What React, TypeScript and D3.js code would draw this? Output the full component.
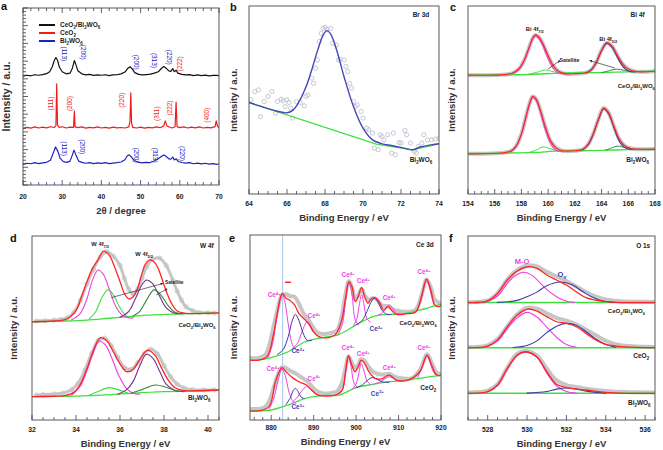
import React from 'react';
import * as d3 from 'd3';

type Pt = [number, number];

const FONT = '"Liberation Sans", Arial, Helvetica, sans-serif';

// ---------- (a) XRD, 2theta vs intensity (a.u., 0-100 = frame height)
const xrdComposite: Pt[] = [
  [20, 61.5], [21, 62.0], [22, 61.7], [23, 62.3], [24, 62.0], [25, 62.4], [26, 62.9], [26.8, 64], [27.5, 67],
  [28, 70.5], [28.4, 72], [28.8, 70.5], [29.3, 66.5], [30, 64], [31, 62.8], [32, 63.2], [32.6, 66], [33.1, 70.3],
  [33.5, 68], [34, 64.5], [35, 62.8], [36, 62.2], [37, 62.5], [38, 61.9], [39, 62.2], [40, 62], [41, 62.3],
  [42, 61.8], [43, 62.2], [44, 62.3], [45, 62.8], [46, 63.8], [46.7, 65.8], [47.3, 66.8], [47.9, 65.5],
  [48.5, 63.5], [49.5, 62.5], [50.5, 62.2], [51.5, 62.4], [52.5, 62.6], [53.5, 63.2], [54.5, 64], [55.3, 65.8],
  [55.9, 67], [56.5, 66], [57.2, 64.5], [57.7, 64.2], [58.2, 65.8], [58.6, 64], [59.1, 64.8], [59.5, 63.2],
  [60.5, 62.5], [61.5, 62.2], [62.5, 62.4], [63.5, 61.8], [64.5, 62.2], [65.5, 61.8], [66.5, 62.1], [67.5, 61.7],
  [68.5, 61.9], [69.5, 62], [70, 61.6],
];
const xrdCeO2: Pt[] = [
  [20, 32.0], [21, 32.6], [22, 32.1], [23, 32.8], [24, 32.2], [25, 32.7], [26, 32.3], [27, 32.9], [28, 32.5],
  [28.4, 33.5], [28.6, 57.2], [28.8, 34], [29.2, 32.6], [30, 32.9], [31, 32.2], [32, 32.7], [32.9, 32.6],
  [33.1, 41.7], [33.3, 32.8], [34, 32.4], [35, 32.8], [36, 32.1], [37, 32.6], [38, 32.3], [39, 32.8], [40, 32.2],
  [41, 32.6], [42, 32.1], [43, 32.7], [44, 32.3], [45, 32.5], [46, 32.2], [47, 32.8], [47.3, 36], [47.5, 52],
  [47.7, 35], [48, 32.6], [49, 32.2], [50, 32.7], [51, 32.1], [52, 32.6], [53, 32.3], [54, 32.8], [55, 32.4],
  [55.9, 33.5], [56.3, 36.2], [56.7, 33.4], [57.5, 32.6], [58, 32.2], [58.8, 32.9], [59.05, 46.9], [59.3, 33],
  [60, 32.4], [61, 32.8], [62, 32.2], [63, 32.7], [64, 32.3], [65, 32.8], [66, 32.2], [67, 32.6], [68, 32.3],
  [69, 33], [69.3, 36.2], [69.6, 33.2], [70, 32.4],
];
const xrdBWO: Pt[] = [
  [20, 11.6], [21, 12.3], [22, 12.0], [23, 12.6], [24, 12.1], [25, 12.5], [26, 12.8], [27, 14], [27.7, 18],
  [28.3, 21.5], [28.9, 19], [29.5, 15], [30.3, 13.2], [31.2, 12.8], [32, 13.5], [32.6, 17], [33, 19.7],
  [33.5, 17], [34.2, 13.5], [35, 12.8], [36, 12.3], [37, 12.6], [38, 12.1], [39, 12.5], [40, 12.2], [41, 12.6],
  [42, 12.1], [43, 12.4], [44, 12.6], [45, 13], [46, 14.3], [46.6, 16.5], [47.1, 17], [47.6, 16], [48.3, 14],
  [49.3, 12.9], [50.3, 12.5], [51.3, 12.8], [52.3, 12.6], [53.3, 13.4], [54.3, 14.5], [55.2, 16], [55.9, 17],
  [56.5, 16.2], [57.2, 14.8], [57.7, 14.6], [58.2, 15.8], [58.6, 14.2], [59.1, 14.8], [59.6, 13.3], [60.5, 12.7],
  [61.5, 12.4], [62.5, 12.6], [63.5, 12.0], [64.5, 12.4], [65.5, 11.9], [66.5, 12.3], [67.5, 11.8], [68.5, 12.1],
  [69.5, 11.7], [70, 12.0],
];
const xrdNames = ['CeO_2/Bi_2WO_6', 'CeO_2', 'Bi_2WO_6'];
const xrdColors = ['#111111', '#ee1c1c', '#2020c0'];
// plane label, 2theta, height, colour index
const xrdPlanes: [string, number, number, number][] = [
  ['(113)', 30.4, 74.1, 2], ['(200)', 35.3, 75, 2], ['(200)', 48.9, 69.4, 2], ['(313)', 53.5, 70.4, 2],
  ['(220)', 57.3, 72.2, 2], ['(222)', 60, 68.5, 1],
  ['(111)', 27.1, 46, 1], ['(200)', 31.8, 46, 1], ['(220)', 45.2, 47.8, 1], ['(311)', 54.1, 40.3, 1],
  ['(222)', 57.5, 43.5, 1], ['(400)', 67, 39.4, 1],
  ['(113)', 30.4, 20.6, 2], ['(200)', 35, 21.6, 2], ['(200)', 48.9, 16.9, 2], ['(313)', 53.7, 16.9, 2],
  ['(220)', 60.5, 17.8, 2],
];

// ---------- (b) Br 3d
const brRaw: Pt[] = [
  [64.1, 50.1], [64.3, 54.5], [64.5, 55.4], [64.6, 41.2], [64.8, 49.2], [65, 51.9], [65.2, 54.5], [65.4, 43],
  [65.5, 49.2], [65.7, 50.4], [65.8, 49.6], [66, 50.1], [66.1, 48.7], [66.2, 45.7], [65.9, 46.5], [66.3, 40.4],
  [66.5, 49.2], [66.7, 48.7], [66.9, 46.9], [67, 51.9], [67.1, 52.7], [67.3, 61.6], [67.4, 58.9], [67.5, 66.9],
  [67.6, 71.3], [67.7, 81.1], [67.8, 85.5], [67.9, 88.1], [68, 88.7], [68.1, 87.6], [68.3, 88.1], [68.4, 80.2],
  [68.6, 79.3], [68.7, 71.3], [68.8, 71.7], [69, 71.3], [69.1, 67.8], [69.2, 65.1], [69.3, 58.9], [69.4, 56.3],
  [69.5, 49.2], [69.6, 46.5], [69.7, 47.4], [69.9, 43.9], [70, 40.4], [70.2, 35], [70.3, 34.2], [70.5, 32.4],
  [70.6, 24.4], [70.8, 23.5], [70.9, 31.5], [71, 30.6], [71.1, 28.8], [71.3, 31.5], [71.5, 21.8], [71.6, 32.4],
  [71.7, 20.9], [71.9, 27.4], [72, 27.1], [72.2, 33.8], [72.3, 31.5], [72.5, 27.1], [72.7, 22.7], [72.8, 21.8],
  [72.9, 25.3], [73.1, 27.1], [73.2, 31.5], [73.4, 28.8], [73.6, 28.8], [73.8, 29.2], [74, 29.7],
];
const brFit: Pt[] = [
  [64, 48.7], [64.5, 47.0], [65, 45.4], [65.5, 44.0], [66, 43.2], [66.3, 44.5], [66.6, 48.5], [67, 57],
  [67.3, 66], [67.6, 76], [67.9, 84.5], [68.1, 86.9], [68.3, 85], [68.6, 77], [69, 62.5], [69.5, 46.5],
  [70, 35], [70.5, 28.8], [71, 26.7], [71.5, 25.8], [72, 24.8], [72.6, 23.5], [73, 25], [73.5, 26], [74, 26.7],
];
const brBase: Pt[] = [[64, 48.7], [70.7, 26.5], [72.6, 23.5], [74, 26.7]];

// ---------- (c) Bi 4f
const biTopBase: Pt[] = [[154, 63.2], [157, 63.4], [159, 63.7], [160.5, 64.2], [162, 64.4], [164, 64.6], [166, 65], [168, 65.3]];
const biTopFit: Pt[] = [
  [154, 63.2], [156.5, 63.4], [157.3, 64.2], [157.8, 66.5], [158.2, 71], [158.6, 78.5], [158.85, 83], [159.05, 84.6],
  [159.3, 83.5], [159.6, 80], [160, 73.5], [160.4, 68], [160.8, 65.2], [161.3, 64], [162, 64], [162.8, 64.5],
  [163.2, 66], [163.6, 70], [164, 76.5], [164.4, 80.5], [164.8, 78.5], [165.2, 73.5], [165.6, 69], [166, 66.5],
  [166.5, 65.2], [167, 65], [168, 65.3],
];
const biTop72: Pt[] = [
  [157.3, 64], [157.8, 66.2], [158.2, 70.8], [158.6, 78.2], [158.85, 82.6], [159.05, 84], [159.3, 82.7],
  [159.6, 79], [160, 72], [160.4, 66.5], [160.8, 64.3], [161.3, 63.8],
];
const biTop52: Pt[] = [
  [162.8, 64.4], [163.2, 65.8], [163.6, 69.8], [164, 76.2], [164.4, 80.1], [164.8, 77.8], [165.2, 72.5],
  [165.6, 67.8], [166, 65.4], [166.5, 64.9],
];
const biTopSat1: Pt[] = [[158.5, 63.7], [159.2, 64.8], [159.8, 66], [160.4, 65], [161, 64.2]];
const biTopSat2: Pt[] = [[164, 64.6], [164.6, 65.6], [165.1, 66.4], [165.7, 65.8], [166.3, 65]];
const biBotBase: Pt[] = [[154, 21.4], [157, 21.8], [159, 22.1], [160.5, 22.8], [162, 23], [164, 23.2], [166, 23.6], [168, 23.9]];
const biBotFit: Pt[] = [
  [154, 21.4], [156.5, 21.8], [157.2, 22.8], [157.6, 25.5], [158, 32], [158.3, 40], [158.6, 48], [158.85, 51.9],
  [159.1, 50.5], [159.4, 45], [159.8, 35.5], [160.2, 28], [160.6, 24.5], [161.1, 23], [162, 23], [162.6, 23.8],
  [163, 26.5], [163.4, 32.5], [163.8, 40.5], [164.15, 45.7], [164.5, 43.5], [164.9, 36.5], [165.3, 29.5],
  [165.7, 25.8], [166.2, 24.2], [167, 23.8], [168, 23.9],
];
const biBot72: Pt[] = [
  [157.2, 22.6], [157.6, 25.2], [158, 31.7], [158.3, 39.6], [158.6, 47.5], [158.85, 51.3], [159.1, 49.8],
  [159.4, 44], [159.8, 34], [160.2, 26.5], [160.6, 23.2], [161.1, 22.5],
];
const biBot52: Pt[] = [
  [162.6, 23.5], [163, 26.2], [163.4, 32.2], [163.8, 40.2], [164.15, 45.2], [164.5, 43], [164.9, 35.8],
  [165.3, 28.5], [165.7, 24.8], [166.2, 23.7],
];
const biBotSat1: Pt[] = [[158.6, 22.2], [159.1, 23.3], [159.6, 25], [160.2, 24], [160.8, 22.8]];
const biBotSat2: Pt[] = [[164.3, 23.3], [164.8, 24.6], [165.2, 25.5], [165.8, 24.6], [166.5, 23.7]];

// ---------- (d) W 4f
const wTopBase: Pt[] = [[32, 53.4], [33.5, 53.8], [34.5, 54.3], [35.5, 55.3], [36.5, 56.3], [37.5, 57.1], [38.5, 57.6], [39.5, 58], [40.5, 58.2]];
const wTopRaw: Pt[] = [
  [32.2, 53.8], [32.6, 54], [33.0, 54.2], [33.3, 54.6], [33.6, 55.5], [33.9, 58.5], [34.2, 65], [34.5, 74],
  [34.8, 82], [35.1, 88.5], [35.4, 91.5], [35.7, 89], [36.0, 84], [36.2, 77], [36.4, 71], [36.6, 68.5],
  [36.8, 71], [37.0, 77], [37.2, 83], [37.5, 87.5], [37.8, 88], [38.1, 84], [38.4, 76], [38.6, 70], [38.8, 65],
  [39.0, 61.5], [39.3, 59.5], [39.6, 58.5], [40.0, 58.2], [40.3, 58.2],
];
const wTopFit: Pt[] = [
  [32, 53.4], [33, 53.8], [33.5, 54.5], [34, 59.5], [34.25, 67], [34.5, 75.2], [34.75, 82.4], [35, 87],
  [35.25, 91.8], [35.5, 89.7], [35.75, 83.3], [36, 75.2], [36.2, 68.8], [36.4, 65.8], [36.6, 67], [36.8, 71.6],
  [37, 79.7], [37.15, 84.6], [37.35, 87], [37.5, 86.4], [37.7, 83.3], [37.85, 78.8], [38, 73.4], [38.15, 68.5],
  [38.3, 64.3], [38.6, 59.2], [39, 58], [40.5, 58.2],
];
const wTop72: Pt[] = [[33.8, 54.5], [34.2, 58], [34.5, 66], [34.75, 76], [35.0, 81.5], [35.25, 79], [35.5, 71.5], [35.8, 62], [36.1, 57], [36.4, 55.5], [36.6, 55.5]];
const wTopSat1: Pt[] = [[34.6, 54.8], [34.9, 59], [35.2, 67], [35.45, 70.7], [35.7, 68], [36.0, 61], [36.3, 56.5], [36.6, 56]];
const wTop52: Pt[] = [[36.0, 55.8], [36.4, 59], [36.7, 66], [37.0, 73.5], [37.2, 76.1], [37.45, 74.5], [37.75, 68.5], [38.1, 61], [38.5, 58], [38.8, 57.8]];
const wTopSat2: Pt[] = [[36.6, 56.5], [36.9, 59], [37.2, 65], [37.55, 70.7], [37.85, 68], [38.2, 62], [38.5, 58.5], [38.9, 57.8]];
const wBotBase: Pt[] = [[32, 12.7], [33.5, 12.9], [35, 13.4], [36.5, 14.5], [38, 15.4], [39.5, 15.9], [40.5, 16.3]];
const wBotRaw: Pt[] = [
  [32.2, 13.6], [32.5, 13.8], [33.0, 14.2], [33.4, 14.6], [33.8, 16.5], [34.1, 20], [34.4, 27], [34.7, 36],
  [35.0, 43], [35.3, 44.5], [35.6, 40.5], [35.9, 34], [36.2, 28.5], [36.5, 27.5], [36.8, 31], [37.1, 36],
  [37.4, 38.5], [37.7, 36], [38.0, 29.5], [38.3, 23.5], [38.6, 19.5], [38.9, 17.5], [39.3, 16.5], [39.8, 16.3],
  [40.3, 16.4],
];
const wBotFit: Pt[] = [
  [32, 12.7], [33, 12.9], [33.5, 13.3], [33.9, 15], [34.2, 19.5], [34.5, 28], [34.8, 38], [35.1, 44.7],
  [35.4, 43], [35.7, 37], [36.0, 30.5], [36.3, 26.3], [36.6, 27.5], [36.9, 33], [37.25, 38], [37.6, 35],
  [37.9, 28], [38.2, 21.5], [38.5, 17.5], [38.9, 16], [39.5, 15.9], [40.5, 16.3],
];
const wBot72: Pt[] = [[33.8, 13.5], [34.2, 18.5], [34.5, 27], [34.8, 37], [35.05, 42.9], [35.35, 40.5], [35.65, 33], [35.95, 24], [36.3, 17], [36.6, 14.5], [36.9, 14]];
const wBot52: Pt[] = [[35.9, 14], [36.3, 16.5], [36.6, 21], [36.9, 29.5], [37.2, 35.7], [37.5, 33.5], [37.8, 26.5], [38.1, 19.5], [38.5, 16], [38.9, 15.4]];
const wBotSat1: Pt[] = [[34.6, 13.5], [35.0, 15.5], [35.5, 17.6], [35.9, 16.5], [36.4, 14.5]];
const wBotSat2: Pt[] = [[36.5, 14.5], [37.0, 16.5], [37.6, 19], [38.1, 17.8], [38.6, 15.8], [39, 15.8]];

// ---------- (e) Ce 3d
const ceTopBase: Pt[] = [[875, 32.4], [877, 32.4], [880, 33.7], [884, 36.9], [888, 42.3], [892, 44.5], [896, 46.3], [900, 51.4], [904, 55.9], [908, 57.1], [912, 57.7], [916, 60], [920, 62.6]];
const ceTopRaw: Pt[] = [
  [875, 33.5], [877, 33.5], [878.5, 35], [879.5, 40], [880.5, 50], [881.5, 60], [882.5, 67.5], [883.5, 68],
  [884.5, 67], [885.5, 66.5], [886.5, 63], [887.5, 58], [888.5, 55], [889.5, 51.5], [890.5, 48], [892, 46.5],
  [894, 47], [895.5, 48.5], [896.5, 55], [897.5, 68], [898.3, 75], [899, 72], [899.8, 65], [900.5, 67.5],
  [901.3, 71], [902, 67.5], [903, 65], [904, 66], [905, 65], [906, 62], [907.5, 61.5], [908.5, 60], [910, 59],
  [912, 58.5], [914, 59.5], [915.5, 68], [916.6, 76], [917.7, 71], [918.5, 65], [919.5, 63.5], [920, 63],
];
const ceTopFit: Pt[] = [
  [875, 32.4], [877, 32.4], [879, 34.2], [880.5, 45.9], [881.5, 58.6], [882.6, 68.5], [883.5, 65.8], [884.3, 64.9],
  [885.5, 62.2], [886.5, 57.7], [888, 54.1], [889, 51.4], [890, 47.5], [892, 44.5], [895, 45.9], [896.5, 53.2],
  [897.5, 65.8], [898.3, 74.8], [899, 72.1], [899.8, 64], [900.5, 66.7], [901.3, 71.5], [902, 66.7], [902.8, 63.1],
  [903.5, 65.4], [904.5, 66.1], [905.5, 63.6], [906.5, 59.5], [907.6, 61.3], [908.5, 58.9], [909.5, 57.1],
  [912, 57.5], [914, 58.2], [915.5, 67.6], [916.6, 76.2], [917.7, 69.4], [918.5, 62.2], [919.5, 61.3], [920, 62],
];
const ceTop4a: Pt[] = [[879.3, 34], [880.3, 41], [881.3, 55], [882, 64], [882.6, 67.9], [883.2, 64], [884, 52], [884.8, 42], [885.6, 38.5], [886.4, 38]];
const ceTop3a: Pt[] = [[881.5, 35.5], [882.8, 38], [884, 45], [885, 54], [885.7, 57.1], [886.5, 54], [887.5, 47], [888.5, 43], [889.5, 43]];
const ceTop4b: Pt[] = [[885, 38.5], [886.3, 42], [887.3, 48], [888.5, 53.2], [889.5, 50], [890.5, 46], [891.5, 44.5]];
const ceTop4c: Pt[] = [[895.8, 46.5], [896.8, 52], [897.5, 64], [898.3, 74.4], [899, 68], [899.8, 54], [900.5, 51.5]];
const ceTop4d: Pt[] = [[899.4, 51], [900.2, 55], [900.8, 63], [901.3, 67.6], [901.8, 63], [902.5, 55], [903.3, 53]];
const ceTop3b: Pt[] = [[900, 51.5], [901.5, 54], [902.5, 58.5], [903.5, 63.5], [904.3, 65.8], [905.2, 63.5], [906.2, 59], [907.2, 57.2], [908.2, 57]];
const ceTop4e: Pt[] = [[905.3, 56.8], [906.3, 58], [907, 60.5], [907.8, 62.2], [908.6, 60.5], [909.4, 58], [910.3, 57.5]];
const ceTop4f: Pt[] = [[914.3, 59], [915.2, 64], [916, 72.5], [916.6, 75.7], [917.2, 72.5], [918, 65], [918.8, 61.5]];
const ceBotBase: Pt[] = [[875, 4.9], [877, 4.9], [880, 5.4], [884, 8.1], [888, 11.7], [892, 13.2], [896, 13.5], [900, 17.5], [904, 19.3], [908, 20.7], [912, 21.6], [916, 22.9], [920, 24.1]];
const ceBotRaw: Pt[] = [
  [875, 6], [877, 6], [878.5, 7], [879.5, 10], [880.5, 17], [881.5, 24], [882.5, 28.5], [883.5, 28], [884.5, 26.5],
  [885.5, 25.5], [886.5, 24], [887.5, 22.5], [888.5, 21], [889.5, 18.5], [890.5, 16], [892, 14.5], [894, 14.5],
  [895.5, 15.5], [896.5, 19], [897.5, 28], [898.2, 34.5], [899, 31], [899.7, 28], [900.5, 30], [901.2, 33],
  [902, 32], [903, 28.5], [904, 26], [905, 25], [906.5, 24.5], [907.8, 25], [909, 23.5], [911, 22.5], [913, 22.5],
  [915, 27], [916.7, 35.5], [917.8, 31], [918.8, 26], [919.5, 25], [920, 25],
];
const ceBotFit: Pt[] = [
  [875, 4.9], [877, 4.9], [879.5, 7.2], [881, 20.7], [882.5, 28.3], [883.5, 26.1], [885, 22.9], [886.5, 20.7],
  [888.3, 18.9], [889.5, 16.2], [891, 13.5], [895, 13.5], [896.7, 16.2], [897.5, 26.1], [898.2, 34.8], [899, 29.7],
  [899.7, 26.1], [900.5, 28.8], [901.2, 32.4], [902, 30.6], [903, 26.1], [904.5, 22.5], [906, 22.2], [907.8, 24.3],
  [909.5, 21.6], [912, 21.4], [915, 26.1], [916.7, 35.1], [917.8, 29.7], [918.8, 24.7], [919.5, 24], [920, 24],
];
const ceBot4a: Pt[] = [[879.5, 6], [880.5, 11], [881.5, 20], [882.5, 27.6], [883.3, 24], [884.2, 15], [885, 10.5], [885.8, 9]];
const ceBot3a: Pt[] = [[883.5, 8.5], [884.5, 12], [885.2, 16], [885.7, 17.1], [886.3, 15.5], [887, 12.5], [887.8, 11.5]];
const ceBot4b: Pt[] = [[885, 9.5], [886.2, 12.5], [887.3, 16], [888.3, 18], [889.3, 16.5], [890.3, 14.5], [891.5, 13.3]];
const ceBot4c: Pt[] = [[896, 14], [896.9, 17], [897.5, 25], [898.2, 34.2], [898.8, 29], [899.5, 20], [900.3, 17.5]];
const ceBot4d: Pt[] = [[899, 16.5], [900, 19.5], [900.7, 26], [901.2, 30.6], [901.8, 27], [902.6, 21], [903.5, 19]];
const ceBot3b: Pt[] = [[900, 17.5], [901.5, 19], [902.7, 21.5], [903.8, 22.9], [905, 22], [906.3, 20.5], [907.8, 20.5]];
const ceBot4e: Pt[] = [[904.2, 19.5], [905.8, 20.7], [906.8, 22.3], [907.8, 23.4], [908.8, 22.5], [909.8, 21.2], [911, 21]];
const ceBot4f: Pt[] = [[914.5, 23], [915.3, 27], [916.1, 32.5], [916.7, 34.6], [917.3, 32], [918.1, 26.5], [918.9, 24]];
const ceV0 = 882.7;
// label, energy, height, 4 = Ce4+ / 3 = Ce3+
const ceLabels: [string, number, number, number][] = [
  ['Ce^{4+}', 880.7, 67.6, 4], ['Ce^{4+}', 890.1, 56.2, 4], ['Ce^{3+}', 886.3, 37.3, 3], ['Ce^{4+}', 898.1, 78.4, 4],
  ['Ce^{4+}', 901.7, 75.1, 4], ['Ce^{3+}', 904.7, 49.2, 3], ['Ce^{4+}', 907.8, 65.9, 4], ['Ce^{4+}', 916, 80, 4],
  ['Ce^{4+}', 880.4, 27.6, 4], ['Ce^{4+}', 890.1, 22.2, 4], ['Ce^{3+}', 886.3, 7, 3], ['Ce^{4+}', 898.1, 38.9, 4],
  ['Ce^{4+}', 901.7, 35.7, 4], ['Ce^{3+}', 905, 14.1, 3], ['Ce^{4+}', 907.8, 28.1, 4], ['Ce^{4+}', 916, 38.9, 4],
];

// ---------- (f) O 1s
const oTopBase: Pt[] = [[527, 63.8], [536.5, 63.8]];
const oTopRaw: Pt[] = [[527, 64], [528, 65], [528.5, 69], [529, 76.5], [529.5, 81.5], [530, 84], [530.5, 83.5], [531, 80.5], [531.5, 78], [532, 75.5], [532.5, 72.5], [533, 69.5], [533.5, 67], [534, 65.5], [534.5, 64.8], [535, 64.4], [536, 64.2], [536.5, 64.2]];
const oTopFit: Pt[] = [[527, 63.8], [528, 64.7], [528.5, 68.8], [529, 76.1], [529.5, 81], [530.05, 83.3], [530.5, 82.4], [531, 78.8], [531.5, 76.1], [532, 73.4], [532.5, 69.7], [533, 66.5], [534, 64.3], [535, 63.8], [536.5, 63.8]];
const oTopMO: Pt[] = [[527.8, 63.8], [528.5, 67.4], [529, 74.3], [529.4, 78.5], [529.8, 80.3], [530.2, 79], [530.5, 76.3], [531, 71], [531.5, 67], [532, 64.5], [532.4, 63.9]];
const oTopOv: Pt[] = [[528.5, 63.9], [529.5, 65], [530, 67], [530.5, 69.5], [531, 73], [531.7, 75], [532.3, 73.5], [532.8, 70], [533.3, 66.8], [533.8, 64.8], [534.5, 63.9]];
const oMidBase: Pt[] = [[527, 39.3], [536.5, 39.3]];
const oMidRaw: Pt[] = [[527, 39.6], [528, 40.6], [528.5, 44], [529, 51], [529.5, 57.5], [530, 61], [530.5, 60.5], [531, 58], [531.5, 55.5], [532, 54], [532.5, 52], [533, 49], [533.5, 46], [534, 43], [534.5, 41.2], [535, 40.3], [536, 39.8], [536.5, 39.7]];
const oMidFit: Pt[] = [[527, 39.3], [528, 40.2], [528.5, 43.5], [529, 50.7], [529.5, 57.1], [530.05, 60.3], [530.5, 59.2], [531, 56.2], [531.5, 53.4], [532, 52.5], [532.5, 50.7], [533, 47.1], [533.5, 43.5], [534, 41.1], [535, 39.7], [536.5, 39.3]];
const oMidMO: Pt[] = [[527.8, 39.4], [528.5, 43], [529, 49.8], [529.5, 55.5], [530, 58.5], [530.5, 56], [531, 50.5], [531.5, 45], [532, 41], [532.5, 39.5]];
const oMidOv: Pt[] = [[529.3, 39.4], [530, 40.5], [530.5, 43], [531, 47.5], [531.5, 51], [532, 52.5], [532.5, 51.5], [533, 48], [533.5, 44], [534, 41], [534.5, 39.6]];
const oBotBase: Pt[] = [[527, 14.5], [536.5, 14.5]];
const oBotRaw: Pt[] = [[527, 15], [528, 16], [528.5, 19.5], [529, 28.5], [529.5, 36], [530, 37.5], [530.5, 35], [531, 28], [531.5, 21.5], [532, 19], [532.5, 18], [533, 17], [534, 15.8], [535, 15.2], [536.5, 15]];
const oBotFit: Pt[] = [[527, 14.5], [528, 15.4], [528.5, 19], [529, 28.1], [529.5, 35.3], [529.9, 37.1], [530.5, 34.4], [531, 26.3], [531.5, 19.4], [532, 17.6], [533, 16.3], [534, 15], [535, 14.5], [536.5, 14.5]];
const oBotMO: Pt[] = [[528, 15.3], [528.5, 18.8], [529, 27.8], [529.5, 35], [529.9, 36.8], [530.5, 34], [531, 25.5], [531.5, 18.5], [532, 15.5], [532.5, 14.6]];
const oBotOv: Pt[] = [[530, 14.6], [531, 15.5], [531.5, 16.8], [532, 17.4], [532.5, 16.8], [533, 15.7], [534, 14.6]];

// ---------- colours
const RED = '#ff2424';
const MAG = '#ee3ee6';
const BLU = '#3a3aaa';
const GRN = '#3ee03e';
const DGR = '#2f8a3f';
const PUR = '#7a2f92';
const GRY = '#c6c6c6';

type Mode = 'line' | 'band' | 'dots' | 'poly';
type Series = { pts: Pt[]; color: string; w: number; mode?: Mode };
type Note = { s: string; x: number; y: number; color?: string; fs?: number; anchor?: 'start' | 'middle' | 'end'; rot?: number; bold?: boolean };

function rich(s: string, fs: number) {
  const out: React.ReactNode[] = [];
  const re = /([_^])(\{[^}]*\}|.)/g;
  let last = 0;
  let shift = 0;
  let k = 0;
  let m: RegExpExecArray | null;
  while ((m = re.exec(s))) {
    if (m.index > last) {
      out.push(<tspan key={k++} dy={shift ? -shift : undefined}>{s.slice(last, m.index)}</tspan>);
      shift = 0;
    }
    const body = m[2].startsWith('{') ? m[2].slice(1, -1) : m[2];
    const d = m[1] === '_' ? fs * 0.28 : -fs * 0.42;
    out.push(<tspan key={k++} fontSize={fs * 0.68} dy={d - shift}>{body}</tspan>);
    shift = d;
    last = re.lastIndex;
  }
  if (last < s.length) out.push(<tspan key={k++} dy={shift ? -shift : undefined}>{s.slice(last)}</tspan>);
  return out;
}

interface PanelProps {
  id: string;
  box: [number, number, number, number];
  xd: [number, number];
  major: number;
  minor: number;
  xTitle: string;
  letterAt: Pt;
  yTitleX: number;
  yTitleFs?: number;
  tickLabelDy: number;
  series: Series[];
  notes: Note[];
  arrows?: [Pt, Pt][];
  vline?: number;
  frameTicks?: boolean;
}

function Panel(p: PanelProps) {
  const [x0, y0, w, h] = p.box;
  const x = d3.scaleLinear().domain(p.xd).range([x0, x0 + w]);
  const y = d3.scaleLinear().domain([0, 100]).range([y0 + h, y0]);
  const smooth = d3.line<Pt>().x(d => x(d[0])).y(d => y(d[1])).curve(d3.curveCatmullRom.alpha(0.5));
  const poly = d3.line<Pt>().x(d => x(d[0])).y(d => y(d[1]));
  const ticks = d3.range(Math.ceil(p.xd[0] / p.minor - 1e-6) * p.minor, p.xd[1] + 1e-6, p.minor);
  const isMajor = (v: number) => Math.abs(v / p.major - Math.round(v / p.major)) < 1e-6;
  const yTicks = p.frameTicks ? d3.range(0, 100.01, 2) : [];
  return (
    <g fontFamily={FONT}>
      <defs>
        <clipPath id={`clip-${p.id}`}>
          <rect x={x0} y={y0} width={w} height={h} />
        </clipPath>
      </defs>
      <g clipPath={`url(#clip-${p.id})`}>
        {p.vline !== undefined && (
          <line x1={x(p.vline)} x2={x(p.vline)} y1={y0} y2={y0 + h} stroke="#a9c3ea" strokeWidth={1} />
        )}
        {p.series.map((s, i) => {
          if (s.mode === 'dots') {
            return (
              <g key={i}>
                {s.pts.map((d, j) => (
                  <circle key={j} cx={x(d[0])} cy={y(d[1])} r={2.1} fill="none" stroke={s.color} strokeWidth={s.w} />
                ))}
              </g>
            );
          }
          const path = s.mode === 'poly' ? poly(s.pts) : smooth(s.pts);
          return (
            <path key={i} d={path || ''} fill="none" stroke={s.color} strokeWidth={s.w}
              strokeLinejoin="round" strokeLinecap="round" />
          );
        })}
      </g>
      <rect x={x0} y={y0} width={w} height={h} fill="none" stroke="#5a5a5a" strokeWidth={1} />
      {ticks.map(v => (
        <g key={v}>
          <line x1={x(v)} x2={x(v)} y1={y0 + h} y2={y0 + h - (isMajor(v) ? 5 : 3)} stroke="#3a3a6a" strokeWidth={0.8} />
          {p.frameTicks && <line x1={x(v)} x2={x(v)} y1={y0} y2={y0 + (isMajor(v) ? 5 : 3)} stroke="#3a3a3a" strokeWidth={0.8} />}
          {isMajor(v) && (
            <text x={x(v)} y={y0 + h + p.tickLabelDy} textAnchor="middle" fontSize={6.8} fontWeight="bold" fill="#222">
              {d3.format('d')(v)}
            </text>
          )}
        </g>
      ))}
      {yTicks.map(v => (
        <line key={v} x1={x0} x2={x0 + (v % 10 === 0 ? 5 : 3)} y1={y(v)} y2={y(v)} stroke="#3a3a3a" strokeWidth={0.8} />
      ))}
      <text x={x0 + w / 2} y={y0 + h + p.tickLabelDy + 15} textAnchor="middle" fontSize={9.5} fontWeight="bold" fill="#333">
        {p.xTitle}
      </text>
      <text transform={`translate(${p.yTitleX},${y0 + h / 2}) rotate(-90)`} textAnchor="middle" fontSize={p.yTitleFs ?? 9.5}
        fontWeight="bold" fill="#333">
        Intensity / a.u.
      </text>
      <text x={p.letterAt[0]} y={p.letterAt[1]} fontSize={11} fontWeight="bold" fill="#111">{p.id}</text>
      {p.arrows?.map((a, i) => (
        <line key={i} x1={x(a[0][0])} y1={y(a[0][1])} x2={x(a[1][0])} y2={y(a[1][1])} stroke="#333" strokeWidth={0.7}
          markerEnd="url(#arrowhead)" />
      ))}
      {p.notes.map((n, i) => {
        const fs = n.fs ?? 6.5;
        const tx = x(n.x);
        const ty = y(n.y);
        return (
          <text key={i} transform={`translate(${tx},${ty})${n.rot ? ` rotate(${n.rot})` : ''}`} dy={fs * 0.35}
            textAnchor={n.anchor ?? 'middle'} fontSize={fs} fontWeight={n.bold === false ? 'normal' : 'bold'}
            fill={n.color ?? '#222'}>
            {rich(n.s, fs)}
          </text>
        );
      })}
    </g>
  );
}

export default function App() {
  const xrdSeries: Series[] = [xrdComposite, xrdCeO2, xrdBWO].map((pts, i) => ({ pts, color: xrdColors[i], w: 1.2, mode: 'poly' as Mode }));
  const xrdNotes: Note[] = xrdPlanes.map(([s, tt, hh, c]) => ({
    s, x: tt, y: hh, color: xrdColors[c], fs: 6.4, rot: c === 1 ? -90 : 90, bold: false,
  }));
  const legendY = [25, 33, 41];

  return (
    <svg width={663} height={450} style={{ position: 'absolute', left: 0, top: 0, background: '#fff' }}>
      <defs>
        <marker id="arrowhead" viewBox="0 0 10 10" refX={9} refY={5} markerWidth={4} markerHeight={4} orient="auto">
          <path d="M0,0 L10,5 L0,10 z" fill="#333" />
        </marker>
      </defs>
      <rect width={663} height={450} fill="#fff" />

      <Panel id="a" box={[23, 8, 196, 177]} xd={[20, 70]} major={10} minor={2} xTitle="2θ / degree" letterAt={[1, 10]}
        yTitleX={10} yTitleFs={10.5} tickLabelDy={14} series={xrdSeries} notes={xrdNotes} frameTicks />
      <g fontFamily={FONT}>
        {xrdNames.map((n, i) => (
          <g key={n}>
            <line x1={39} x2={55} y1={legendY[i]} y2={legendY[i]} stroke={xrdColors[i]} strokeWidth={2} />
            <text x={60} y={legendY[i] + 2.3} fontSize={6.5} fontWeight="bold" fill="#222">{rich(n, 6.5)}</text>
          </g>
        ))}
      </g>

      <Panel id="b" box={[249, 6, 190, 188]} xd={[64, 74]} major={2} minor={0.5} xTitle="Binding Energy / eV"
        letterAt={[230, 11]} yTitleX={237} tickLabelDy={12} notes={[
          { s: 'Br 3d', x: 73.05, y: 95.2 },
          { s: 'Bi_2WO_6', x: 73.05, y: 18.1 },
        ]} series={[
          { pts: brRaw, color: '#b9b9cc', w: 0.8, mode: 'dots' },
          { pts: brBase, color: GRN, w: 1.3, mode: 'poly' },
          { pts: brFit, color: '#4646b8', w: 1.4 },
        ]} />

      <Panel id="c" box={[468, 6, 187, 188]} xd={[154, 168]} major={2} minor={0.5} xTitle="Binding Energy / eV"
        letterAt={[450, 11]} yTitleX={455} tickLabelDy={12} series={[
          { pts: biTopFit, color: GRY, w: 4 },
          { pts: biBotFit, color: GRY, w: 4 },
          { pts: biTopBase, color: GRN, w: 1.3 },
          { pts: biBotBase, color: GRN, w: 1.3 },
          { pts: biTopSat1, color: GRN, w: 1 },
          { pts: biBotSat1, color: GRN, w: 1 },
          { pts: biTopSat2, color: DGR, w: 1 },
          { pts: biBotSat2, color: DGR, w: 1 },
          { pts: biTop72, color: MAG, w: 1.1 },
          { pts: biBot72, color: MAG, w: 1.1 },
          { pts: biTop52, color: BLU, w: 1.1 },
          { pts: biBot52, color: BLU, w: 1.1 },
          { pts: biTopFit, color: RED, w: 1.2 },
          { pts: biBotFit, color: RED, w: 1.2 },
        ]} notes={[
          { s: 'Bi 4f_{7/2}', x: 159.0, y: 87.8, fs: 5.8 },
          { s: 'Bi 4f_{5/2}', x: 164.5, y: 82.4, fs: 5.8 },
          { s: 'Satellite', x: 161.6, y: 71.3, fs: 5.2 },
          { s: 'Bi 4f', x: 166.7, y: 95.2 },
          { s: 'CeO_2/Bi_2WO_6', x: 166.6, y: 57.4, fs: 6 },
          { s: 'Bi_2WO_6', x: 166.7, y: 18.1 },
        ]} arrows={[
          [[160.0, 66.5], [160.9, 71]],
          [[165.0, 67], [163.1, 71]],
        ]} />

      <Panel id="d" box={[32, 236, 187, 184]} xd={[32, 40.5]} major={2} minor={0.5} xTitle="Binding Energy / eV"
        letterAt={[10, 242]} yTitleX={17} tickLabelDy={12} series={[
          { pts: wTopRaw, color: GRY, w: 3 },
          { pts: wBotRaw, color: GRY, w: 3 },
          { pts: wTopRaw, color: '#bdbdbd', w: 0.7, mode: 'dots' },
          { pts: wBotRaw, color: '#bdbdbd', w: 0.7, mode: 'dots' },
          { pts: wTopBase, color: GRN, w: 1.3 },
          { pts: wBotBase, color: GRN, w: 1.3 },
          { pts: wTop72, color: MAG, w: 1.1 },
          { pts: wBot72, color: MAG, w: 1.1 },
          { pts: wTopSat1, color: GRN, w: 1.1 },
          { pts: wBotSat1, color: GRN, w: 1.1 },
          { pts: wTop52, color: PUR, w: 1.1 },
          { pts: wBot52, color: PUR, w: 1.1 },
          { pts: wTopSat2, color: DGR, w: 1.1 },
          { pts: wBotSat2, color: DGR, w: 1.1 },
          { pts: wTopFit, color: RED, w: 1.3 },
          { pts: wBotFit, color: RED, w: 1.3 },
        ]} notes={[
          { s: 'W 4f_{7/2}', x: 35.1, y: 95.6, fs: 5.8 },
          { s: 'W 4f_{5/2}', x: 37.1, y: 90.2, fs: 5.8 },
          { s: 'Satellite', x: 38.05, y: 74.6, fs: 4.8, anchor: 'start' },
          { s: 'W 4f', x: 39.95, y: 94.8, fs: 6.5 },
          { s: 'CeO_2/Bi_2WO_6', x: 39.5, y: 51.6, fs: 6 },
          { s: 'Bi_2WO_6', x: 39.6, y: 12 },
        ]} arrows={[
          [[35.6, 66.5], [37.95, 74.2]],
          [[37.65, 68], [38.15, 71.3]],
        ]} />

      <Panel id="e" box={[250, 235, 191, 185]} xd={[875, 920]} major={10} minor={2} xTitle="Binding Energy / eV"
        letterAt={[229, 242]} yTitleX={237} tickLabelDy={10} vline={ceV0} series={[
          { pts: ceTopRaw, color: GRY, w: 4 },
          { pts: ceBotRaw, color: GRY, w: 4 },
          { pts: ceTopBase, color: GRN, w: 1.3 },
          { pts: ceBotBase, color: GRN, w: 1.3 },
          ...[ceTop4a, ceTop4b, ceTop4c, ceTop4d, ceTop4e, ceTop4f, ceBot4a, ceBot4b, ceBot4c, ceBot4d, ceBot4e, ceBot4f]
            .map(pts => ({ pts, color: MAG, w: 1 })),
          ...[ceTop3a, ceTop3b, ceBot3a, ceBot3b].map(pts => ({ pts, color: BLU, w: 1 })),
          { pts: ceTopFit, color: RED, w: 1.3 },
          { pts: ceBotFit, color: RED, w: 1.3 },
          { pts: [[883.4, 74.4], [884.5, 74.4]], color: RED, w: 1.5, mode: 'poly' },
        ]} notes={[
          ...ceLabels.map(([s, e, hh, c]) => ({ s, x: e, y: hh, color: c === 4 ? MAG : BLU, fs: 6.3 })),
          { s: 'Ce 3d', x: 916.2, y: 94.6 },
          { s: 'CeO_2/Bi_2WO_6', x: 914.6, y: 52.4, fs: 6 },
          { s: 'CeO_2', x: 917, y: 17.3 },
        ]} />

      <Panel id="f" box={[468, 236, 187, 184]} xd={[527, 536.5]} major={2} minor={0.5} xTitle="Binding Energy / eV"
        letterAt={[449, 242]} yTitleX={455} tickLabelDy={12} series={[
          { pts: oTopRaw, color: GRY, w: 4 },
          { pts: oMidRaw, color: GRY, w: 4 },
          { pts: oBotRaw, color: GRY, w: 4 },
          { pts: oTopBase, color: GRN, w: 1.5, mode: 'poly' },
          { pts: oMidBase, color: GRN, w: 1.5, mode: 'poly' },
          { pts: oBotBase, color: GRN, w: 1.5, mode: 'poly' },
          { pts: oTopMO, color: MAG, w: 1.1 },
          { pts: oMidMO, color: MAG, w: 1.1 },
          { pts: oBotMO, color: MAG, w: 1.1 },
          { pts: oTopOv, color: BLU, w: 1.1 },
          { pts: oMidOv, color: BLU, w: 1.1 },
          { pts: oBotOv, color: BLU, w: 1.1 },
          { pts: oTopFit, color: RED, w: 1.3 },
          { pts: oMidFit, color: RED, w: 1.3 },
          { pts: oBotFit, color: RED, w: 1.3 },
        ]} notes={[
          { s: 'M-O', x: 529.74, y: 86.4, color: MAG, fs: 7.5 },
          { s: 'O_v', x: 531.77, y: 79.3, color: BLU, fs: 7.5 },
          { s: 'O 1s', x: 535.9, y: 94.6, fs: 6.5 },
          { s: 'CeO_2/Bi_2WO_6', x: 535.05, y: 59.2, fs: 6 },
          { s: 'CeO_2', x: 535.8, y: 34.8 },
          { s: 'Bi_2WO_6', x: 535.7, y: 9.2 },
        ]} />
    </svg>
  );
}
